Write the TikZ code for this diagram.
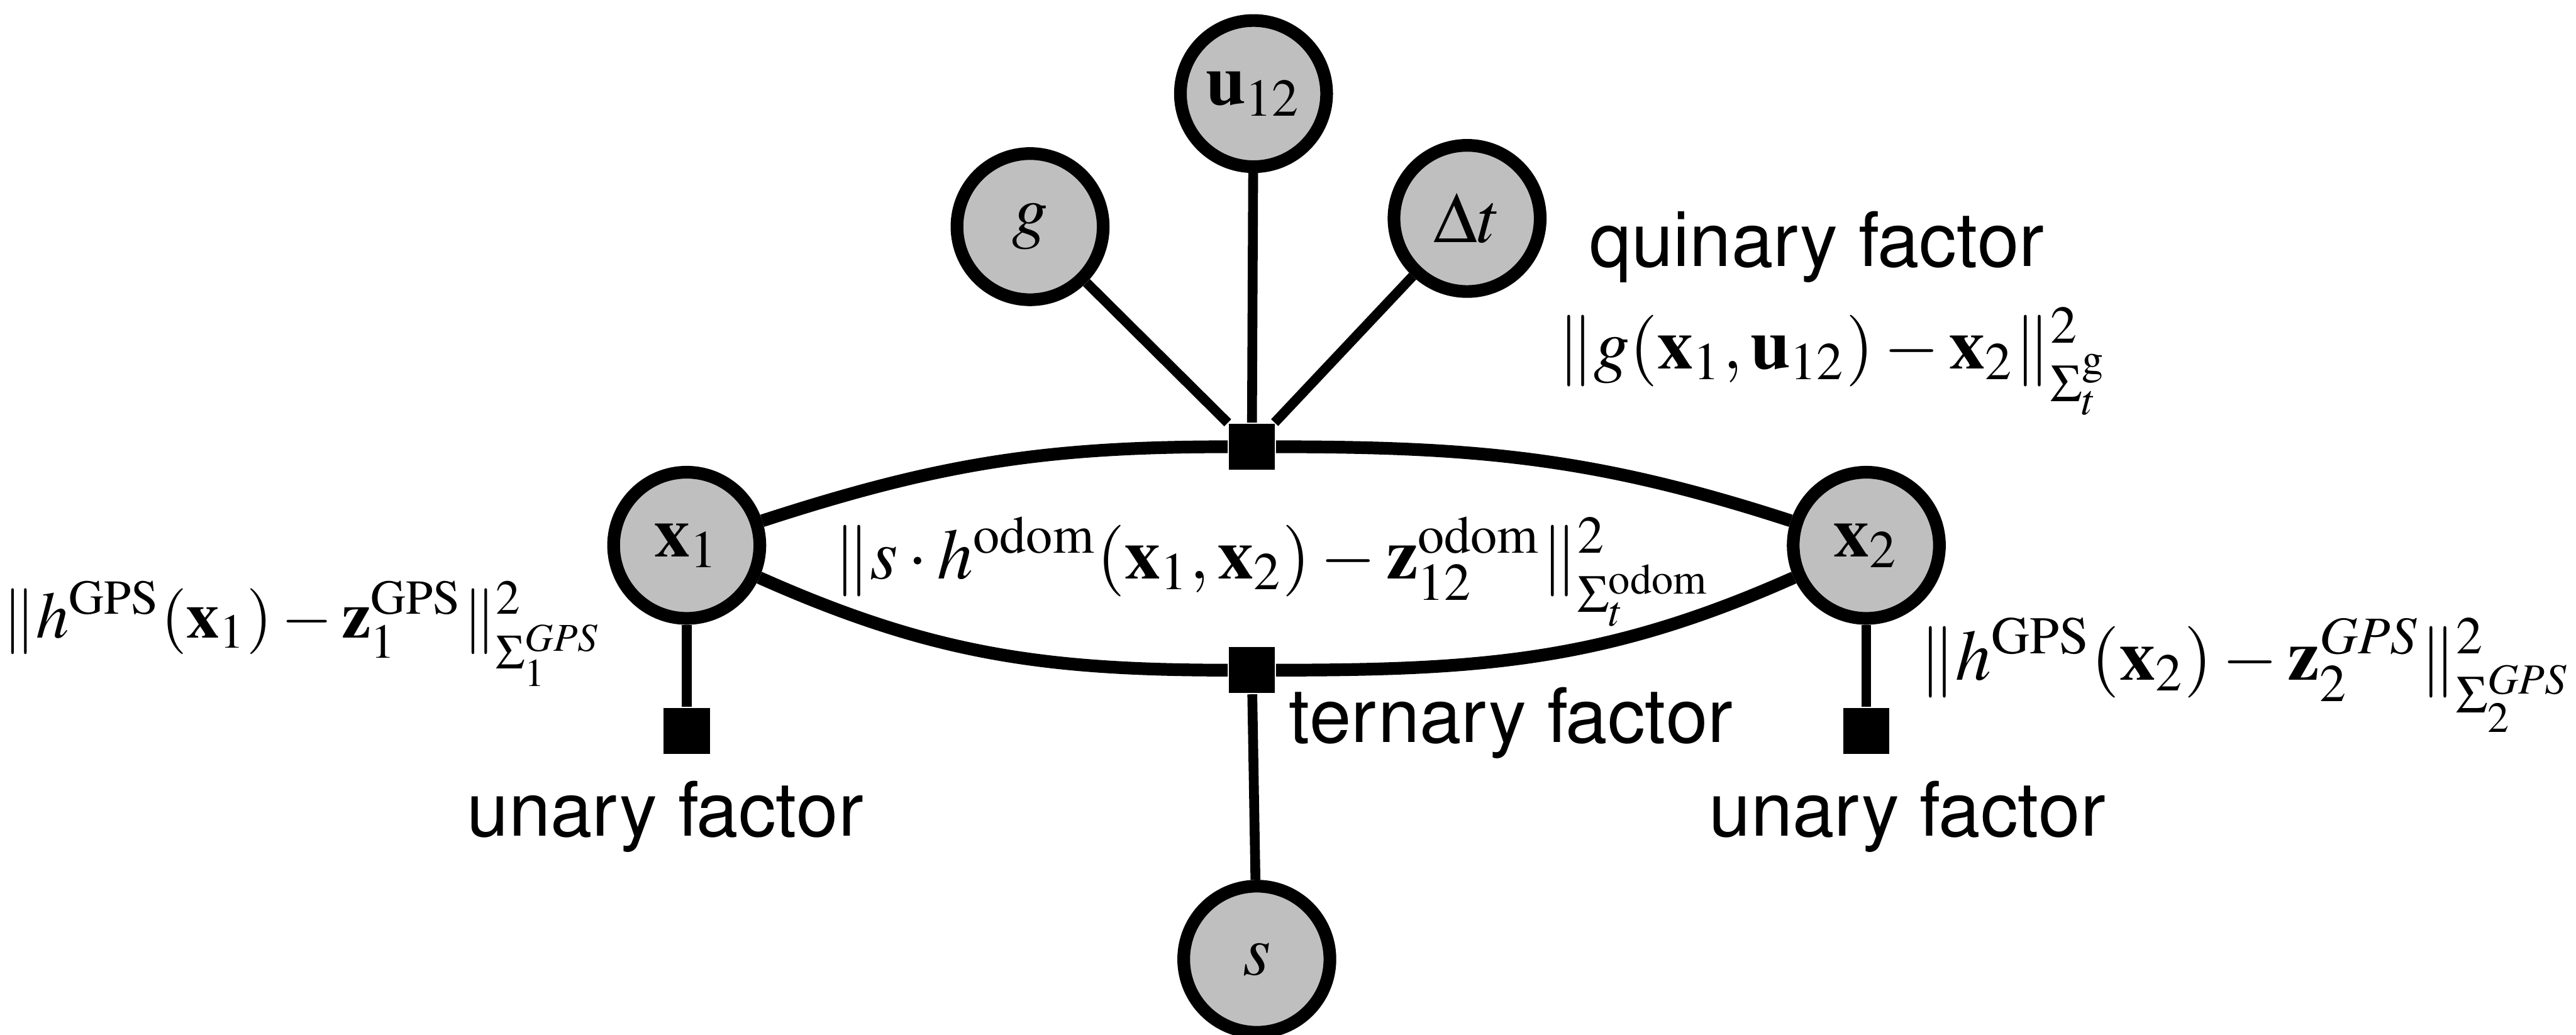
\documentclass[tikz,border=0pt]{standalone}
\usepackage[T1]{fontenc}
\usepackage{mathptmx}
\usepackage[scaled=1]{helvet}
\usepackage{tikz}
\usetikzlibrary{positioning}
\definecolor{nodegray}{RGB}{191,191,191}
\tikzset{
var_node/.style={circle, draw, line width=2.2pt, fill=nodegray, minimum size=0.89cm, inner sep=0pt},
factor_node/.style={rectangle, fill=black, minimum size=0.28cm, inner sep=0pt},
edge_line/.style={line width=2.2pt},
spoke_line/.style={line width=1.7pt},
label_text/.style={font=\fontsize{13}{15}\selectfont\sffamily}
}

\begin{document}
\begin{tikzpicture}[font=\fontsize{12.4}{15}\selectfont]
    \useasboundingbox (0,0) rectangle (15.68,6.30);
    % variables
    \node[var_node] (x_1) at (4.18,2.98) {$\mathbf{x}_1$};
    \node[var_node] (x_2) at (11.36,2.98) {$\mathbf{x}_2$};
    \node[var_node] (u_12) at (7.63,5.73) {$\mathbf{u}_{12}$};
    \node[var_node] (g) at (6.27,4.92) {$g$};
    \node[var_node] (dt) at (8.93,4.97) {$\Delta t$};
    \node[var_node] (s) at (7.65,0.46) {$s$};
    % factors
    \node[factor_node] (quin) at (7.62,3.58) {};
    \node[factor_node] (tern) at (7.62,2.22) {};
    \node[factor_node] (un_1) [below=0.5 of x_1] {};
    \node[factor_node] (un_2) [below=0.5 of x_2] {};
    % edges
    \draw[edge_line] (x_1) to[out=18,in=180] (quin) to[out=0,in=162] (x_2);
    \draw[edge_line] (x_1) to[out=-24,in=180] (tern) to[out=0,in=-156] (x_2);
    \draw[spoke_line] (g) -- (quin);
    \draw[spoke_line] (u_12) -- (quin);
    \draw[spoke_line] (dt) -- (quin);
    \draw[spoke_line] (tern) -- (s);
    \draw[spoke_line] (x_1) -- (un_1);
    \draw[spoke_line] (x_2) -- (un_2);
    % labels
    \node[label_text] (quin_label) at (11.06,4.80) {quinary factor};
    \node[anchor=west] (quin_cost) at (9.36,4.10) {$\|g(\mathbf{x}_1,\mathbf{u}_{12})-\mathbf{x}_2\|^2_{\Sigma_t^{\mathrm{g}}}$};
    \node (tern_cost) at (7.75,2.82) {$\|s\cdot h^{\mathrm{odom}}(\mathbf{x}_1,\mathbf{x}_2)-\mathbf{z}_{12}^{\mathrm{odom}}\|^2_{\Sigma_t^{\mathrm{odom}}}$};
    \node[label_text, anchor=west] (tern_label) at (7.72,1.90) {ternary factor};
    \node[anchor=east, inner sep=0pt, font=\fontsize{11.4}{14}\selectfont] (un_cost_1) at (3.68,2.44) {$\|h^{\mathrm{GPS}}(\mathbf{x}_1)-\mathbf{z}_1^{\mathrm{GPS}}\|^2_{\Sigma_1^{GPS}}$};
    \node[anchor=west, inner sep=0pt] (un_cost_2) at (11.68,2.19) {$\|h^{\mathrm{GPS}}(\mathbf{x}_2)-\mathbf{z}_2^{GPS}\|^2_{\Sigma_2^{GPS}}$};
    \node[label_text] (un_label_1) at (4.05,1.33) {unary factor};
    \node[label_text] (un_label_2) at (11.61,1.33) {unary factor};
\end{tikzpicture}
\end{document}
